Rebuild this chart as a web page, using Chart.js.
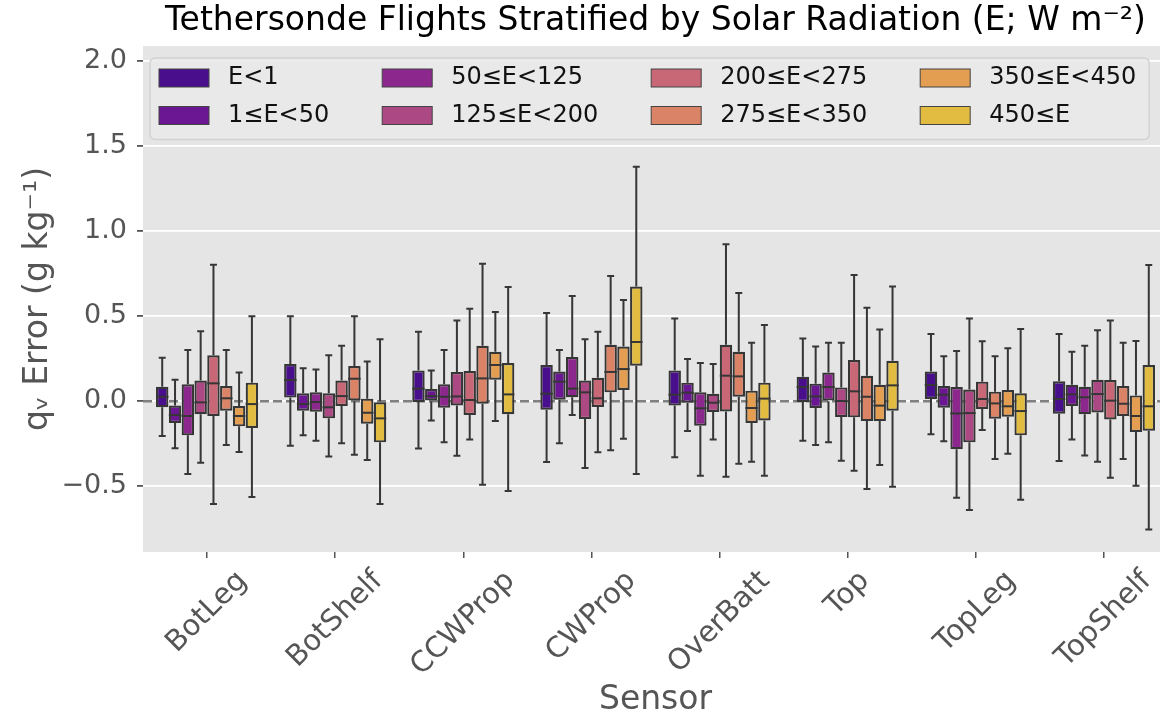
<!DOCTYPE html>
<html>
<head>
<meta charset="utf-8">
<script src="https://cdn.jsdelivr.net/npm/chart.js@4.4.1/dist/chart.umd.min.js"></script>
<style>
  html, body { margin: 0; padding: 0; background: #fff; overflow: hidden; }
  canvas { display: block; }
</style>
</head>
<body>
<canvas id="chart" width="1180" height="720"></canvas>
<script>
// sensors on the x axis
const sensors = ['BotLeg', 'BotShelf', 'CCWProp', 'CWProp', 'OverBatt', 'Top', 'TopLeg', 'TopShelf'];
// solar radiation bins (hue)
const bins = ['E<1', '1≤E<50', '50≤E<125', '125≤E<200', '200≤E<275', '275≤E<350', '350≤E<450', '450≤E'];
const binColors = ['#480E8B', '#6B1693', '#8C288D', '#AC4883', '#C86776', '#DA8366', '#E39E52', '#E2BC41'];
const yTicks = [-0.5, 0.0, 0.5, 1.0, 1.5, 2.0];

// box stats, one row per bin, one column per sensor (g/kg)
const whiskerLow = [
  [-0.204, -0.261, -0.278, -0.357, -0.329, -0.231, -0.194, -0.351],
  [-0.276, -0.200, -0.112, -0.247, -0.175, -0.257, -0.235, -0.225],
  [-0.427, -0.231, -0.241, -0.080, -0.437, -0.241, -0.567, -0.318],
  [-0.361, -0.324, -0.320, -0.392, -0.225, -0.349, -0.639, -0.355],
  [-0.604, -0.247, -0.225, -0.300, -0.443, -0.408, -0.169, -0.449],
  [-0.257, -0.314, -0.490, -0.288, -0.367, -0.516, -0.339, -0.339],
  [-0.298, -0.345, -0.116, -0.220, -0.355, -0.375, -0.308, -0.496],
  [-0.563, -0.604, -0.527, -0.427, -0.437, -0.502, -0.578, -0.753]
];
const q1 = [
  [-0.035, 0.022, -0.004, -0.049, -0.025, -0.004, 0.014, -0.073],
  [-0.127, -0.055, 0.000, 0.010, -0.008, -0.039, -0.037, -0.027],
  [-0.200, -0.061, -0.037, 0.024, -0.143, 0.000, -0.282, -0.076],
  [-0.076, -0.100, -0.024, -0.104, -0.063, -0.092, -0.241, -0.065],
  [-0.086, -0.027, -0.080, -0.033, -0.059, -0.094, -0.045, -0.106],
  [-0.055, 0.000, -0.014, 0.053, 0.027, -0.116, -0.102, -0.086],
  [-0.147, -0.131, 0.127, 0.067, -0.127, -0.116, -0.090, -0.180],
  [-0.157, -0.241, -0.076, 0.210, -0.112, -0.055, -0.200, -0.173]
];
const medians = [
  [0.027, 0.125, 0.075, 0.045, 0.039, 0.084, 0.096, 0.014],
  [-0.080, -0.016, 0.031, 0.116, 0.051, 0.029, 0.039, 0.041],
  [-0.086, -0.004, 0.027, 0.075, -0.041, 0.084, -0.071, 0.024],
  [-0.006, -0.035, 0.029, 0.053, -0.008, 0.002, -0.069, 0.043],
  [0.106, 0.031, 0.008, 0.018, 0.151, 0.059, 0.014, 0.004],
  [0.018, 0.133, 0.135, 0.173, 0.147, 0.027, -0.012, -0.014],
  [-0.086, -0.067, 0.214, 0.190, -0.039, -0.025, -0.029, -0.086],
  [-0.016, -0.100, 0.041, 0.349, 0.016, 0.094, -0.057, -0.029]
];
const q3 = [
  [0.086, 0.220, 0.182, 0.214, 0.182, 0.145, 0.175, 0.118],
  [-0.025, 0.047, 0.073, 0.176, 0.110, 0.104, 0.090, 0.098],
  [0.100, 0.053, 0.100, 0.261, 0.053, 0.169, 0.084, 0.086],
  [0.122, 0.047, 0.173, 0.122, 0.045, 0.082, 0.069, 0.127],
  [0.271, 0.122, 0.178, 0.139, 0.333, 0.243, 0.116, 0.125],
  [0.090, 0.208, 0.327, 0.333, 0.292, 0.151, 0.057, 0.090],
  [-0.027, 0.016, 0.292, 0.322, 0.063, 0.098, 0.067, 0.035],
  [0.110, 0.000, 0.225, 0.675, 0.110, 0.239, 0.047, 0.214]
];
const whiskerHigh = [
  [0.257, 0.500, 0.410, 0.520, 0.488, 0.369, 0.396, 0.396],
  [0.127, 0.194, 0.182, 0.302, 0.249, 0.322, 0.265, 0.292],
  [0.302, 0.188, 0.302, 0.620, 0.225, 0.345, 0.296, 0.327],
  [0.412, 0.271, 0.475, 0.365, 0.220, 0.345, 0.488, 0.418],
  [0.804, 0.327, 0.545, 0.410, 0.924, 0.743, 0.353, 0.475],
  [0.302, 0.500, 0.810, 0.737, 0.637, 0.551, 0.265, 0.345],
  [0.169, 0.235, 0.525, 0.596, 0.345, 0.422, 0.312, 0.355],
  [0.500, 0.365, 0.673, 1.380, 0.449, 0.676, 0.425, 0.802]
];

const lineColor = '#363636';
const FONT = "'DejaVu Sans', sans-serif";

// gray panel, dashed zero line and whiskers under the boxes
const boxPlot = {
  id: 'boxPlot',
  beforeDraw(chart) {
    const { ctx, chartArea: a } = chart;
    ctx.save();
    ctx.fillStyle = '#E5E5E5';
    ctx.fillRect(a.left, a.top, a.right - a.left, a.bottom - a.top);
    ctx.restore();
  },
  beforeDatasetsDraw(chart) {
    const { ctx, chartArea: a, scales: { y } } = chart;
    const y0 = y.getPixelForValue(0);
    ctx.save();
    ctx.strokeStyle = '#808080';
    ctx.lineWidth = 2.5;
    ctx.setLineDash([9, 4]);
    ctx.beginPath();
    ctx.moveTo(a.left, y0);
    ctx.lineTo(a.right, y0);
    ctx.stroke();
    ctx.setLineDash([]);
    ctx.strokeStyle = lineColor;
    ctx.lineWidth = 2;
    chart.data.datasets.forEach((ds, s) => {
      chart.getDatasetMeta(s).data.forEach((bar, i) => {
        const cap = bar.width * 0.28;
        const yl = y.getPixelForValue(whiskerLow[s][i]);
        const yh = y.getPixelForValue(whiskerHigh[s][i]);
        const ya = y.getPixelForValue(q1[s][i]);
        const yb = y.getPixelForValue(q3[s][i]);
        ctx.beginPath();
        ctx.moveTo(bar.x, yb); ctx.lineTo(bar.x, yh);
        ctx.moveTo(bar.x, ya); ctx.lineTo(bar.x, yl);
        ctx.moveTo(bar.x - cap, yh); ctx.lineTo(bar.x + cap, yh);
        ctx.moveTo(bar.x - cap, yl); ctx.lineTo(bar.x + cap, yl);
        ctx.stroke();
      });
    });
    ctx.restore();
  },
  afterDatasetsDraw(chart) {
    const { ctx, scales: { y } } = chart;
    ctx.save();
    ctx.strokeStyle = lineColor;
    ctx.lineWidth = 2;
    chart.data.datasets.forEach((ds, s) => {
      chart.getDatasetMeta(s).data.forEach((bar, i) => {
        const ym = y.getPixelForValue(medians[s][i]);
        ctx.beginPath();
        ctx.moveTo(bar.x - bar.width / 2, ym);
        ctx.lineTo(bar.x + bar.width / 2, ym);
        ctx.stroke();
      });
    });
    ctx.restore();
  },
  afterDraw(chart) {
    const { ctx, chartArea: a, scales: { x } } = chart;
    ctx.save();
    // rotated sensor labels, centred under each tick
    ctx.font = '29px ' + FONT;
    ctx.fillStyle = '#555555';
    x.getLabels().forEach((lab, i) => {
      const px = x.getPixelForValue(i);
      const w = ctx.measureText(lab).width;
      const h = 24;
      const bh = (w + h) * Math.SQRT1_2;
      ctx.save();
      ctx.translate(px, a.bottom + 16 + bh / 2);
      ctx.rotate(-Math.PI / 4);
      ctx.textAlign = 'center';
      ctx.textBaseline = 'middle';
      ctx.fillText(lab, 0, 0);
      ctx.restore();
    });

    // legend: 2 rows, filled column by column
    ctx.font = '24px ' + FONT;
    const rows = 2, cols = Math.ceil(bins.length / rows);
    const left = a.left + 7, top = a.top + 12;
    const patchW = 50, patchH = 18, textGap = 19, colGap = 53, rowH = 37.5;
    let cx = left + 9;
    const items = [];
    for (let c = 0; c < cols; c++) {
      let maxW = 0;
      for (let r = 0; r < rows; r++) {
        const k = c * rows + r;
        if (k >= bins.length) continue;
        maxW = Math.max(maxW, ctx.measureText(bins[k]).width);
        items.push({ k, x: cx, y: top + 20 + r * rowH });
      }
      cx += patchW + textGap + maxW + colGap;
    }
    const frameR = cx - colGap + 13;
    const frameB = top + 20 + (rows - 1) * rowH + 24;
    ctx.fillStyle = 'rgba(234,234,234,0.85)';
    ctx.strokeStyle = '#d2d2d2';
    ctx.lineWidth = 1.5;
    ctx.beginPath();
    ctx.roundRect(left, top, frameR - left, frameB - top, 5);
    ctx.fill();
    ctx.stroke();
    items.forEach(it => {
      ctx.fillStyle = binColors[it.k];
      ctx.fillRect(it.x, it.y - patchH / 2, patchW, patchH);
      ctx.strokeStyle = '#444444';
      ctx.lineWidth = 1;
      ctx.strokeRect(it.x, it.y - patchH / 2, patchW, patchH);
      ctx.fillStyle = '#111111';
      ctx.textAlign = 'left';
      ctx.textBaseline = 'middle';
      ctx.fillText(bins[it.k], it.x + patchW + textGap, it.y);
    });
    ctx.restore();
  }
};

const datasets = bins.map((b, s) => ({
  label: b,
  data: q1[s].map((v, i) => [v, q3[s][i]]),
  backgroundColor: binColors[s],
  borderColor: lineColor,
  borderWidth: 2.2,
  borderSkipped: false,
  categoryPercentage: 0.8,
  barPercentage: 0.97
}));

new Chart(document.getElementById('chart'), {
  type: 'bar',
  data: { labels: sensors, datasets },
  options: {
    responsive: false,
    animation: false,
    layout: { padding: { left: 0, right: 12, top: 0, bottom: 0 } },
    plugins: {
      legend: { display: false },
      tooltip: { enabled: false },
      title: {
        display: true,
        fullSize: false,
        text: 'Tethersonde Flights Stratified by Solar Radiation (E; W m⁻²)',
        color: '#000000',
        font: { family: FONT, size: 33, weight: 'normal' },
        padding: { top: 2, bottom: 4.4 }
      }
    },
    scales: {
      x: {
        afterFit: s => { s.height = 168; },
        grid: { offset: false, drawOnChartArea: false, drawTicks: true, tickLength: 6, tickColor: '#555555', lineWidth: 1.5 },
        border: { display: false },
        ticks: { display: false },
        title: {
          display: true,
          text: 'Sensor',
          color: '#555555',
          font: { family: FONT, size: 33 },
          padding: { top: 0, bottom: 0 }
        }
      },
      y: {
        min: -0.886,
        max: 2.09,
        afterFit: s => { s.width = 143; },
        afterBuildTicks: s => { s.ticks = yTicks.map(v => ({ value: v })); },
        grid: { color: '#FFFFFF', lineWidth: 1.8, tickColor: '#555555', tickLength: 6 },
        border: { display: false },
        ticks: {
          color: '#555555',
          padding: 10,
          font: { family: FONT, size: 27 },
          callback: v => (v < 0 ? '\u2212' : '') + Math.abs(v).toFixed(1)
        },
        title: {
          display: true,
          text: 'qᵥ Error (g kg⁻¹)',
          color: '#555555',
          font: { family: FONT, size: 33 },
          padding: { top: 19, bottom: 0 }
        }
      }
    }
  },
  plugins: [boxPlot]
});
</script>
</body>
</html>
